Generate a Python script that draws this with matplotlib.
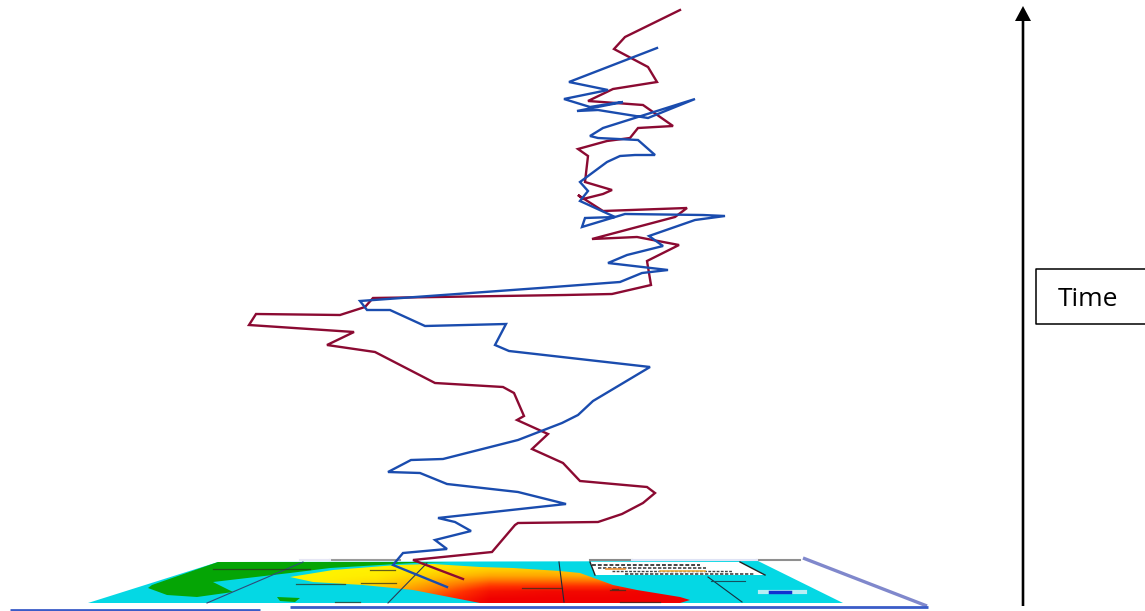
# Storm tracks over a flattened forecast map, with a time arrow
import numpy as np
import matplotlib
matplotlib.use('Agg')
import matplotlib.pyplot as plt
from matplotlib.colors import LinearSegmentedColormap
from matplotlib.patches import Polygon, FancyArrow

# Tracks, in picture pixels, from the top of the picture down to the map
red_x = [680, 625, 614, 648, 657, 613, 588, 602, 643, 673, 638, 630, 607, 578, 588, 585, 612, 603, 583, 578, 603, 687, 675, 592, 637, 679, 647, 651, 612, 565, 373, 365, 340, 256, 249, 354, 327, 375, 435, 503, 514, 524, 517, 548, 532, 563, 580, 647, 655, 643, 622, 598, 518, 515, 492, 413, 463]
red_y = [10, 37, 49, 67, 82, 89, 101, 102, 105, 126, 128, 138, 141, 149, 156, 182, 190, 194, 199, 195, 211, 208, 217, 239, 237, 245, 261, 285, 294, 295, 298, 307, 315, 314, 325, 332, 345, 352, 383, 387, 393, 416, 420, 434, 449, 463, 481, 487, 493, 503, 514, 522, 523, 525, 552, 560, 579]
blue_x = [657, 569, 608, 564, 590, 615, 623, 577, 598, 648, 695, 603, 590, 598, 638, 655, 635, 620, 607, 580, 588, 580, 615, 585, 582, 625, 703, 725, 695, 649, 663, 627, 608, 668, 642, 620, 540, 360, 367, 390, 425, 506, 495, 509, 650, 593, 578, 562, 518, 443, 411, 388, 420, 447, 518, 566, 438, 455, 471, 435, 447, 403, 393, 447]
blue_y = [48, 82, 90, 99, 107, 103, 102, 111, 110, 118, 99, 128, 136, 138, 140, 155, 155, 156, 162, 182, 191, 201, 217, 218, 227, 214, 215, 216, 220, 236, 246, 255, 263, 270, 273, 282, 288, 301, 310, 310, 326, 324, 345, 351, 367, 401, 415, 423, 440, 459, 460, 472, 473, 484, 492, 504, 518, 522, 531, 540, 549, 553, 565, 587]

# Map shapes
sea_x = [218, 758, 843, 88]
sea_y = [562, 561, 603, 603]
land_x = [218, 450, 413, 330, 290, 213, 233, 197, 167, 148, 152]
land_y = [562, 562, 563, 568, 573, 582, 592, 597, 595, 588, 585]
island_x = [277, 300, 295, 280]
island_y = [597, 598, 602, 601]
swath_x = [290, 333, 397, 433, 480, 513, 560, 580, 613, 637, 680, 690, 680, 480, 413, 363, 313]
swath_y = [577, 570, 565, 564, 567, 568, 571, 573, 585, 590, 597, 600, 603, 603, 590, 585, 582]
key_x = [590, 740, 765, 595]
key_y = [562, 562, 575, 575]

# Swath shading, rows top to bottom, columns left to right
shade = [[0.00, 0.00, 0.05, 0.15, 0.18, 0.15, 0.20],
         [0.00, 0.03, 0.20, 0.35, 0.35, 0.30, 0.40],
         [0.02, 0.12, 0.38, 0.65, 0.65, 0.65, 0.75],
         [0.05, 0.25, 0.55, 0.90, 0.95, 0.95, 1.00],
         [0.10, 0.40, 0.70, 1.00, 1.00, 1.00, 1.00]]

grid_lines = [([207, 303], [603, 562], '#2f4a7a'),
              ([388, 427], [603, 563], '#2b3a55'),
              ([559, 564], [562, 602], '#1c2a3a'),
              ([708, 742], [577, 602], '#16303f'),
              ([711, 745], [581, 581], '#16505f')]
coast_dashes = [([296, 345], [584, 584]), ([361, 396], [582.5, 582.5]), ([370, 395], [570, 570]),
                ([213, 310], [569, 569]), ([612, 618], [589, 589]), ([522, 562], [588, 588]),
                ([620, 660], [602, 602]), ([610, 625], [590, 590]), ([335, 360], [602, 602])]
top_bars = [([330, 400], '#9a9a9a'), ([590, 632], '#8a8a8a'), ([757, 800], '#8f8f8f'), ([300, 330], '#e6e6f4'), ([632, 757], '#dfe3f5')]
key_text_rows = [([592, 700], 565, 1.4), ([598, 706], 568, 1.2), ([612, 732], 571, 1.0), ([625, 755], 574, 1.2)]

fig = plt.figure(figsize=(11.45, 6.11), dpi=100)
ax = fig.add_axes([0, 0, 1, 1])
ax.set_xlim(0, 1145)
ax.set_ylim(611, 0)
ax.axis('off')

# Map
ax.add_patch(Polygon(np.column_stack([sea_x, sea_y]), fc='#04d8e4', ec='none', zorder=1))
ax.plot([803, 927], [558, 606], color='#8088cc', lw=2.4, zorder=1, solid_capstyle='butt')
for bar_x, bar_c in top_bars:
    ax.plot(bar_x, [560, 560], color=bar_c, lw=1.5, zorder=1)
ax.add_patch(Polygon(np.column_stack([land_x, land_y]), fc='#05a505', ec='none', zorder=2))
ax.add_patch(Polygon(np.column_stack([island_x, island_y]), fc='#05a505', ec='none', zorder=2))

cmap = LinearSegmentedColormap.from_list('swath', ['#fff200', '#ffc000', '#ff8000', '#ff3000', '#f00000'])
swath = ax.imshow(shade, cmap=cmap, vmin=0, vmax=1, extent=[290, 690, 603, 564], interpolation='bilinear', aspect='auto', zorder=3)
clip = Polygon(np.column_stack([swath_x, swath_y]), transform=ax.transData, fc='none', ec='none')
ax.add_patch(clip)
swath.set_clip_path(clip)
ax.set_xlim(0, 1145)
ax.set_ylim(611, 0)

for line_x, line_y, line_c in grid_lines:
    ax.plot(line_x, line_y, color=line_c, lw=0.8, zorder=4)
for dash_x, dash_y in coast_dashes:
    ax.plot(dash_x, dash_y, color='#303020', lw=0.9, alpha=0.75, zorder=4)

# Map key
ax.add_patch(Polygon(np.column_stack([key_x, key_y]), fc='white', ec='none', zorder=4))
ax.plot(key_x[:1] + key_x[3:], key_y[:1] + key_y[3:], color='#222222', lw=1, zorder=5)
ax.plot(key_x[1:3], key_y[1:3], color='#222222', lw=1, zorder=5)
for row_x, row_y, row_w in key_text_rows:
    ax.plot(row_x, [row_y, row_y], color='#444444', lw=row_w, ls=(0, (2, 1)), zorder=5)
ax.plot([606, 625], [569, 569], color='#f09030', lw=1.2, zorder=6)
ax.plot([660, 705], [571, 571], color='#f0b040', lw=1.2, zorder=6)
ax.plot([760, 805], [592, 592], color='#b8eef5', lw=3, zorder=4)
ax.plot([770, 790], [592, 592], color='#1030d0', lw=2.5, zorder=5)

# Strip along the bottom edge
ax.plot([10, 260], [609.5, 609.5], color='#3a5cc8', lw=2, zorder=2, solid_capstyle='butt')
ax.plot([290, 928], [607, 607], color='#3a5cc8', lw=2, zorder=2, solid_capstyle='butt')

# Tracks
ax.plot(red_x, red_y, color='#8b0a32', lw=1.7, zorder=7, solid_joinstyle='miter')
ax.plot(blue_x, blue_y, color='#1a4cae', lw=1.7, zorder=8, solid_joinstyle='miter')

# Time arrow and label
ax.add_patch(FancyArrow(1023, 606, 0, -600, width=2.6, head_width=16, head_length=15,
                        length_includes_head=True, fc='black', ec='none', zorder=9))
ax.plot([1146, 1036, 1036, 1146], [269, 269, 324, 324], color='black', lw=1.1, zorder=9, clip_on=False)
ax.text(1058, 300, 'Time', fontsize=19, family='Open Sans', color='black', va='center', ha='left', zorder=9)

fig.savefig('out.png', dpi=100)
